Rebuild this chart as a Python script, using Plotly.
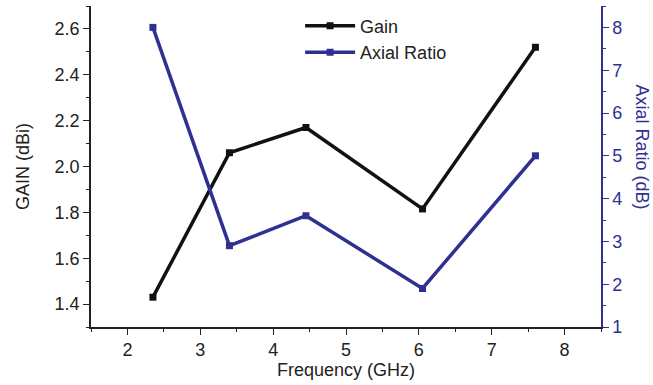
import plotly.graph_objects as go

freq = [2.35, 3.4, 4.45, 6.05, 7.6]
gain = [1.43, 2.06, 2.17, 1.815, 2.52]
axial_ratio = [8.0, 2.9, 3.6, 1.9, 5.0]

BLUE = "#2e3192"
FONT = "Liberation Sans, Arial, sans-serif"

fig = go.Figure()
fig.add_trace(go.Scatter(x=freq, y=gain, name="Gain", mode="lines+markers",
                         line=dict(color="#111111", width=3.5),
                         marker=dict(symbol="square", size=7, color="#111111"),
                         yaxis="y"))
fig.add_trace(go.Scatter(x=freq, y=axial_ratio, name="Axial Ratio", mode="lines+markers",
                         line=dict(color=BLUE, width=3.5),
                         marker=dict(symbol="square", size=7, color=BLUE),
                         yaxis="y2"))

fig.update_layout(
    width=653, height=385,
    margin=dict(l=91, r=52, t=6, b=58),
    paper_bgcolor="white", plot_bgcolor="white",
    font=dict(family=FONT, size=18, color="#222222"),
    showlegend=True,
    legend=dict(x=0.41, y=0.995, xanchor="left", yanchor="top",
                bgcolor="rgba(0,0,0,0)", font=dict(size=18, color="#222222"),
                tracegroupgap=0, itemwidth=50),
    xaxis=dict(range=[1.5, 8.5], dtick=1, tick0=0, showgrid=False, zeroline=False,
               showline=True, linecolor="#222222", linewidth=1.5,
               ticks="outside", ticklen=6, tickcolor="#222222",
               minor=dict(dtick=0.5, tick0=0.5, ticks="outside", ticklen=3, tickcolor="#222222"),
               title=dict(text="Frequency (GHz)", font=dict(size=18), standoff=0),
               tickfont=dict(size=18)),
    yaxis=dict(range=[1.3, 2.7], dtick=0.2, tick0=1.4, showgrid=False, zeroline=False,
               showline=True, linecolor="#222222", linewidth=1.5,
               ticks="outside", ticklen=6, tickcolor="#222222", tickformat=".1f",
               minor=dict(dtick=0.1, tick0=1.3, ticks="outside", ticklen=3, tickcolor="#222222"),
               title=dict(text="GAIN (dBi)", font=dict(size=18), standoff=20),
               tickfont=dict(size=18)),
    yaxis2=dict(range=[1, 8.5], dtick=1, tick0=1, overlaying="y", side="right",
                showgrid=False, zeroline=False,
                showline=True, linecolor=BLUE, linewidth=1.5,
                ticks="outside", ticklen=6, tickcolor=BLUE,
                minor=dict(dtick=0.5, tick0=0.5, ticks="outside", ticklen=3, tickcolor=BLUE),
                tickfont=dict(size=18, color=BLUE)),
    annotations=[dict(text="Axial Ratio (dB)", textangle=90, xref="paper", yref="paper",
                      x=1.08, y=0.56, xanchor="center", yanchor="middle", showarrow=False,
                      font=dict(size=18, color=BLUE))],
)

fig.write_html("out.html")
